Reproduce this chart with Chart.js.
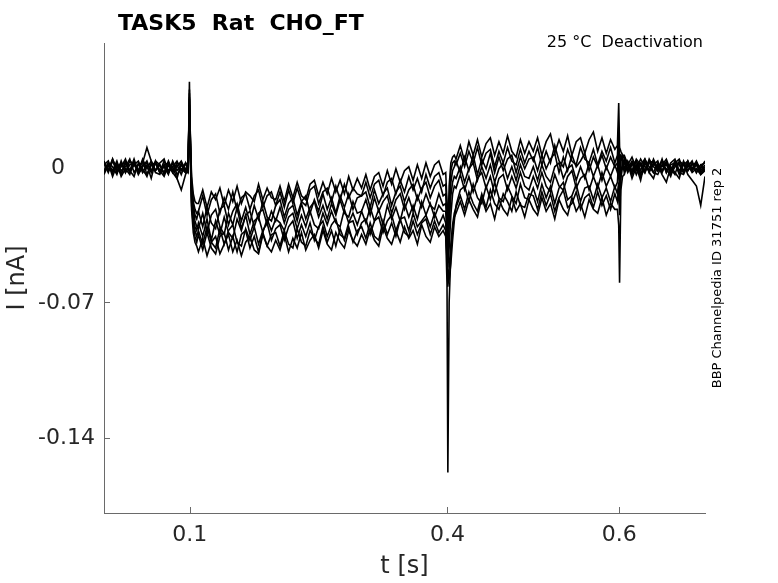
<!DOCTYPE html>
<html>
<head>
<meta charset="utf-8">
<script src="https://cdn.jsdelivr.net/npm/chart.js@4.4.1/dist/chart.umd.min.js"></script>
<style>
  html, body { margin: 0; padding: 0; background: #fff; }
  canvas { display: block; }
</style>
</head>
<body>
<canvas id="chart" width="778" height="583"></canvas>
<script>
// sample times in ms (denser around the voltage steps)
const timeMs = [
  0, 5, 10, 15, 20, 25, 30, 35, 40, 45, 50, 55, 60, 65, 70, 75, 80, 85, 90, 95,
  98, 99.5, 100.5, 102, 104, 106, 108,
  110, 115, 120, 125, 130, 135, 140, 145, 150, 155, 160, 165, 170, 175, 180, 185, 190, 195,
  200, 205, 210, 215, 220, 225, 230, 235, 240, 245, 250, 255, 260, 265, 270, 275, 280, 285, 290, 295,
  300, 305, 310, 315, 320, 325, 330, 335, 340, 345, 350, 355, 360, 365, 370, 375, 380, 385, 390, 395,
  398, 399.5, 400.5, 402, 404, 406, 408,
  410, 415, 420, 425, 430, 435, 440, 445, 450, 455, 460, 465, 470, 475, 480, 485, 490, 495,
  500, 505, 510, 515, 520, 525, 530, 535, 540, 545, 550, 555, 560, 565, 570, 575, 580, 585, 590, 595,
  598, 599.5, 600.5, 602, 604,
  606, 610, 615, 620, 625, 630, 635, 640, 645, 650, 655, 660, 665, 670, 675, 680, 685, 690, 695, 700
];

// current of each sweep in pA
const sweep1 = [
  -3, 2, -5, 1, -4, 3, -2, -5, 2, -3, 1, -6, 3, -2, -5, 1, -3, -6, 2, -1,
  -2, 44, 10, -22, -34, -39, -41,
  -44, -37, -46, -39, -36, -45, -40, -35, -44, -38, -46, -39, -36, -43, -45, -35, -41, -44,
  -38, -43, -35, -44, -37, -42, -34, -43, -38, -35, -42, -33, -40, -43, -34, -39, -42, -33, -38, -41,
  -35, -40, -32, -38, -41, -31, -37, -40, -33, -39, -31, -37, -33, -40, -30, -36, -39, -31, -36, -33,
  -36, -60, -158, -70, -45, -32, -26,
  -24, -18, -25, -17, -22, -26, -16, -23, -19, -27, -17, -22, -25, -16, -23, -19, -26, -17,
  -22, -25, -16, -23, -19, -27, -17, -22, -25, -16, -23, -19, -26, -17, -22, -24, -16, -25, -19, -22,
  -22, -30, -60, -12, -5,
  -4, 2, -6, 0, -7, 3, -3, -6, 1, -4, -8, 0, -3, -6, 2, -4, -7, -10, -20, -5
];
const sweep2 = [
  2, -2, 4, -3, 0, 4, -3, 2, -2, 3, -4, 1, 2, -3, 3, -2, 0, -6, -12, -4,
  -1, 38, 6, -20, -30, -36, -39,
  -35, -43, -34, -42, -45, -36, -34, -43, -36, -44, -35, -33, -42, -36, -44, -34, -41, -35,
  -34, -41, -33, -40, -42, -32, -39, -41, -33, -37, -40, -31, -39, -33, -41, -32, -38, -31, -39, -33,
  -31, -37, -29, -36, -38, -28, -35, -29, -36, -27, -34, -36, -28, -35, -29, -27, -35, -28, -34, -30,
  -33, -48, -62, -52, -40, -30, -24,
  -21, -15, -22, -13, -19, -23, -14, -21, -12, -19, -22, -14, -18, -23, -13, -20, -21, -14,
  -15, -22, -13, -20, -14, -23, -16, -12, -21, -19, -13, -22, -16, -14, -21, -13, -20, -15, -22, -14,
  -18, -10, -25, -6, 0,
  3, -2, 2, -4, 1, 4, -3, 2, -2, 4, -3, 1, 2, -4, 3, -2, 1, 2, -3, 0
];
const sweep3 = [
  -4, 1, -3, 2, -5, -1, -4, 3, -3, -1, -5, 2, -3, -4, 1, -3, 2, -4, -1, -3,
  -3, 40, 8, -18, -28, -33, -36,
  -33, -40, -31, -39, -42, -32, -40, -33, -30, -39, -41, -32, -38, -31, -40, -33, -29, -38,
  -32, -30, -38, -31, -28, -37, -30, -36, -29, -38, -31, -28, -36, -30, -27, -35, -37, -29, -28, -35,
  -29, -27, -35, -28, -26, -34, -28, -25, -33, -27, -26, -33, -24, -31, -28, -25, -31, -24, -30, -25,
  -29, -45, -60, -58, -50, -38, -28,
  -20, -12, -10, -18, -9, -16, -19, -10, -17, -8, -16, -18, -10, -15, -19, -9, -16, -17,
  -11, -18, -9, -16, -10, -19, -11, -8, -17, -15, -9, -18, -11, -10, -17, -9, -16, -11, -18, -10,
  -14, -8, -20, -3, 2,
  -3, 2, -4, 1, -5, -1, 3, -3, -4, 1, -1, -5, 2, -3, -4, 1, -3, -1, -4, -2
];
const sweep4 = [
  3, -2, 4, -1, 2, -3, 3, 1, -2, 4, -1, 3, -2, 2, 4, -3, 0, 3, -2, 2,
  1, 35, 12, -15, -26, -31, -33,
  -29, -36, -27, -38, -28, -35, -26, -34, -37, -27, -33, -25, -35, -28, -26, -34, -27, -33,
  -27, -29, -33, -26, -24, -32, -25, -31, -23, -30, -32, -24, -30, -23, -29, -31, -22, -29, -24, -30,
  -23, -29, -21, -28, -22, -30, -20, -27, -21, -28, -19, -26, -20, -27, -18, -25, -19, -26, -20, -23,
  -23, -35, -52, -42, -25, -14, -10,
  -11, -4, -12, -5, -13, -6, -3, -11, -5, -14, -6, -4, -12, -5, -11, -3, -10, -12,
  -5, -11, -3, -10, -13, -4, -10, -12, -5, -2, -11, -6, -4, -12, -5, -11, -3, -10, -5, -11,
  -8, 4, -12, 3, 5,
  5, 1, -3, 3, -2, 4, 0, -3, 2, -2, 3, -4, 0, 2, -3, 3, -2, 1, -4, -1
];
const sweep5 = [
  1, 3, -3, 2, -2, 0, 4, -3, 1, 2, 10, 3, -2, 1, -4, 2, -2, 0, 3, -2,
  0, 32, 14, -12, -22, -28, -31,
  -32, -24, -34, -25, -22, -31, -35, -24, -30, -21, -32, -25, -23, -31, -24, -22, -30, -23,
  -28, -21, -29, -22, -20, -28, -19, -27, -21, -18, -26, -20, -27, -19, -25, -17, -24, -26, -18, -24,
  -23, -17, -25, -16, -23, -18, -15, -24, -17, -14, -22, -16, -23, -15, -21, -14, -20, -22, -14, -20,
  -19, -30, -48, -30, -15, -8, -5,
  -6, 0, -8, -1, 2, -7, 0, -6, 1, -8, -1, 2, -6, 0, -7, 1, -5, -6,
  0, -7, 1, -5, -8, 0, 2, -6, -1, 1, -7, 0, -6, 2, -5, 1, -7, 0, -5, 1,
  -3, 10, -5, 4, 6,
  4, -1, 3, -2, 2, -3, 4, 0, -2, 3, 1, -3, 2, 4, -2, 0, 3, -3, 1, 2
];
const sweep6 = [
  -2, 2, 0, -4, 3, -3, 1, 2, -4, 0, 3, -3, 2, -2, 0, -4, 3, -2, 1, -3,
  -1, 36, 15, -10, -20, -25, -27,
  -23, -31, -21, -29, -32, -22, -20, -30, -23, -19, -28, -21, -29, -20, -27, -18, -26, -28,
  -20, -17, -26, -19, -16, -25, -18, -15, -24, -17, -23, -14, -22, -16, -24, -15, -21, -14, -22, -16,
  -15, -13, -21, -12, -19, -14, -11, -20, -13, -10, -18, -12, -9, -17, -11, -8, -16, -10, -7, -15,
  -14, -28, -45, -25, -8, -2, 0,
  3, -3, 5, -2, 6, -4, 4, -1, 7, -3, 5, -2, 4, 6, -3, 5, -1, 4,
  5, -2, 6, -1, 4, 7, -3, 5, -2, 6, 0, 3, 7, -2, 5, 0, 6, -1, 5, 0,
  2, 12, -8, 5, 4,
  2, -3, 1, 3, -4, 2, -2, 1, 3, -3, 2, -1, -4, 3, 1, -2, 2, -3, 1, -2
];
const sweep7 = [
  -3, 1, -2, 3, -4, 2, -3, 1, 3, -2, -4, 1, 2, -3, 1, 2, -3, 1, -4, 2,
  -2, 30, 16, -8, -18, -22, -24,
  -23, -15, -25, -17, -14, -24, -16, -22, -13, -23, -16, -14, -22, -15, -12, -21, -15, -13,
  -20, -13, -21, -12, -19, -11, -18, -20, -12, -10, -19, -13, -11, -18, -10, -17, -9, -16, -11, -14,
  -15, -8, -16, -9, -7, -15, -8, -6, -14, -7, -13, -5, -12, -6, -13, -4, -11, -5, -3, -10,
  -9, -22, -40, -18, -2, 2, 3,
  1, 7, 0, 8, 2, 10, 1, 7, 9, 0, 8, 2, 10, 3, 1, 9, 2, 8,
  3, 10, 1, 8, 2, 11, 3, 0, 9, 3, 1, 10, 4, 2, 9, 1, 8, 3, 10, 2,
  6, 20, 5, 6, 4,
  -1, 3, -2, 4, 1, -3, 2, 3, -2, 1, 4, -2, 3, 1, -3, 2, -1, 3, -2, 1
];
const sweep8 = [
  2, -3, 3, -2, 1, 2, -2, 4, -3, 1, 2, -2, 3, 1, -3, 3, -2, 2, 1, -2,
  1, 28, 18, -5, -14, -18, -19,
  -19, -12, -21, -13, -17, -11, -20, -12, -18, -10, -19, -13, -15, -18, -9, -17, -11, -16,
  -17, -10, -18, -9, -16, -8, -15, -17, -9, -7, -15, -8, -14, -6, -13, -7, -14, -5, -12, -6,
  -11, -4, -12, -5, -3, -10, -2, -9, -1, -8, -2, 0, -7, 1, -6, 2, -5, 1, 3, -4,
  -3, -18, -35, -10, 2, 5, 6,
  4, 11, 3, 13, 6, 14, 5, 12, 15, 6, 13, 7, 16, 8, 5, 14, 7, 13,
  8, 15, 6, 13, 17, 7, 14, 8, 16, 6, 13, 15, 7, 14, 18, 8, 15, 7, 14, 9,
  11, 33, 10, 8, 6,
  6, 1, 5, -1, 4, 0, -2, 4, -1, 3, -3, 2, 4, -2, 1, 3, -2, 2, -1, 3
];
const sweeps = [sweep1, sweep2, sweep3, sweep4, sweep5, sweep6, sweep7, sweep8];

const xTicks = [0.1, 0.4, 0.6];
const yTicks = [-0.14, -0.07, 0];
const yTickLabels = ['-0.14', '-0.07', '0'];

const titleText = 'TASK5  Rat  CHO_FT';
const subText = '25 \u00B0C  Deactivation';
const sideText = 'BBP Channelpedia ID 31751 rep 2';

Chart.defaults.font.family = 'DejaVu Sans';

// inward ticks, y labels and the texts round the axes
const decor = {
  id: 'decor',
  beforeDatasetsDraw(chart) {
    const {ctx, chartArea: {left, bottom}, scales: {x, y}} = chart;
    ctx.save();
    ctx.strokeStyle = '#6a6a6a';
    ctx.lineWidth = 1;
    xTicks.forEach(v => {
      const px = Math.round(x.getPixelForValue(v)) + 0.5;
      ctx.beginPath();
      ctx.moveTo(px, bottom);
      ctx.lineTo(px, bottom - 6);
      ctx.stroke();
    });
    yTicks.forEach(v => {
      const py = Math.round(y.getPixelForValue(v)) + 0.5;
      ctx.beginPath();
      ctx.moveTo(left, py);
      ctx.lineTo(left + 6, py);
      ctx.stroke();
    });
    ctx.restore();
  },
  afterDraw(chart) {
    const {ctx, scales: {y}} = chart;
    ctx.save();
    ctx.fillStyle = '#262626';
    ctx.font = '22px "DejaVu Sans"';
    ctx.textBaseline = 'middle';
    ctx.textAlign = 'right';
    yTicks.forEach((v, i) => {
      const lbl = yTickLabels[i];
      const rx = lbl === '0' ? 65 : 95; // matlab puts the 0 further left
      ctx.fillText(lbl, rx, y.getPixelForValue(v) + 1);
    });

    ctx.fillStyle = '#000';
    ctx.textBaseline = 'alphabetic';
    ctx.textAlign = 'left';
    ctx.font = 'bold 22px "DejaVu Sans"';
    ctx.fillText(titleText, 118, 30);

    ctx.textAlign = 'right';
    ctx.font = '16px "DejaVu Sans"';
    ctx.fillText(subText, 703, 47);

    ctx.translate(718, 278);
    ctx.rotate(-Math.PI / 2);
    ctx.textAlign = 'center';
    ctx.textBaseline = 'middle';
    ctx.font = '13px "DejaVu Sans"';
    ctx.fillText(sideText, 0, 0);
    ctx.restore();
  }
};

new Chart(document.getElementById('chart'), {
  type: 'line',
  data: {
    datasets: sweeps.map(s => ({
      data: timeMs.map((t, i) => ({x: t / 1000, y: s[i] / 1000})),
      borderColor: '#000',
      borderWidth: 1.6,
      pointRadius: 0,
      tension: 0
    }))
  },
  options: {
    responsive: false,
    animation: false,
    layout: {padding: {left: 0, right: 73, top: 43, bottom: 0}},
    plugins: {legend: {display: false}, tooltip: {enabled: false}},
    scales: {
      x: {
        type: 'linear',
        min: 0,
        max: 0.7,
        afterBuildTicks: s => { s.ticks = xTicks.map(v => ({value: v})); },
        afterFit: s => { s.height = 70; },
        grid: {display: false, drawTicks: false},
        border: {display: true, color: '#6a6a6a', width: 1},
        ticks: {
          autoSkip: false,
          maxRotation: 0,
          padding: 9,
          color: '#262626',
          font: {size: 22},
          callback: v => String(v)
        },
        title: {
          display: true,
          text: 't [s]',
          color: '#262626',
          font: {size: 24},
          padding: {top: 0, bottom: 2}
        }
      },
      y: {
        type: 'linear',
        min: -0.179,
        max: 0.064,
        afterBuildTicks: s => { s.ticks = yTicks.map(v => ({value: v})); },
        afterFit: s => { s.width = 104; },
        grid: {display: false, drawTicks: false},
        border: {display: true, color: '#6a6a6a', width: 1},
        ticks: {display: false},
        title: {
          display: true,
          text: 'I [nA]',
          color: '#262626',
          font: {size: 24},
          padding: {top: 3, bottom: 0}
        }
      }
    }
  },
  plugins: [decor]
});
</script>
</body>
</html>
